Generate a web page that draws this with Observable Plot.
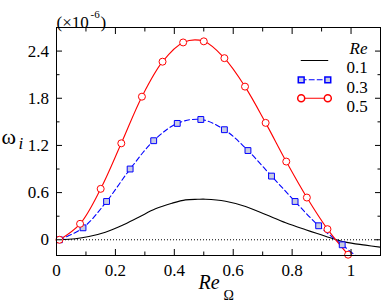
<!DOCTYPE html>
<html>
<head>
<meta charset="utf-8">
<script src="https://cdn.jsdelivr.net/npm/d3@7"></script>
<script src="https://cdn.jsdelivr.net/npm/@observablehq/plot@0.6"></script>
<style>
  html, body { margin: 0; padding: 0; background: #fff; }
</style>
</head>
<body>
<div id="chart"></div>
<script>
// Re = 0.1 (solid black curve)
const blackX = [0.01, 0.064, 0.11, 0.166, 0.222, 0.279, 0.336, 0.392, 0.438, 0.48, 0.506, 0.574, 0.642, 0.71, 0.778, 0.846, 0.913, 0.981, 1.049, 1.1];
const blackY = [0, 0.013, 0.042, 0.097, 0.182, 0.287, 0.394, 0.465, 0.508, 0.515, 0.516, 0.49, 0.423, 0.321, 0.216, 0.127, 0.045, -0.03, -0.068, -0.094];

// Re = 0.3 (blue dashed with squares)
const blueX = [0.01, 0.09, 0.17, 0.25, 0.33, 0.41, 0.49, 0.57, 0.65, 0.73, 0.81, 0.89, 0.97];
const blueY = [0, 0.152, 0.487, 0.9, 1.26, 1.48, 1.53, 1.40, 1.135, 0.81, 0.487, 0.178, -0.064];
const blueTailX = [1.05];
const blueTailY = [-0.31];

// Re = 0.5 (red solid with circles)
const redX = [0.01, 0.08, 0.15, 0.22, 0.29, 0.36, 0.43, 0.50, 0.57, 0.64, 0.71, 0.78, 0.85, 0.92, 0.99];
const redY = [0, 0.203, 0.648, 1.227, 1.82, 2.265, 2.51, 2.524, 2.31, 1.948, 1.487, 0.995, 0.537, 0.135, -0.19];

const xMajor = [0, 0.2, 0.4, 0.6, 0.8, 1];
const xMinor = [0.1, 0.3, 0.5, 0.7, 0.9];
const yMajor = [0, 0.6, 1.2, 1.8, 2.4];
const yMinor = [0.3, 0.9, 1.5, 2.1];
const legendLabels = ["0.1", "0.3", "0.5"];

const black = blackX.map((x, i) => ({x, y: blackY[i]}));
const blue = blueX.map((x, i) => ({x, y: blueY[i]}));
const blueLine = blue.concat(blueTailX.map((x, i) => ({x, y: blueTailY[i]})));
const red = redX.map((x, i) => ({x, y: redY[i]}));

const FONT = "Liberation Serif, Times New Roman, serif";
const fmt = d => d === 0 ? "0" : (Number.isInteger(d) ? String(d) : d.toFixed(1));
const blank = () => "";
const one = [0];
const segShape = {draw(ctx, l) { ctx.moveTo(0, 0); ctx.lineTo(0, -l); }};

const chart = Plot.plot({
  width: 381,
  height: 305,
  marginLeft: 56,
  marginRight: 1,
  marginTop: 27,
  marginBottom: 50,
  style: {fontFamily: FONT, fontSize: "17px", background: "#fff", color: "#000"},
  x: {domain: [0, 1.1]},
  y: {domain: [-0.2, 2.7]},
  marks: [
    Plot.ruleY([0], {stroke: "black", strokeDasharray: "1,2", strokeWidth: 1}),
    Plot.line(black, {x: "x", y: "y", stroke: "black", strokeWidth: 1.1, curve: "catmull-rom", clip: true}),
    Plot.line(blueLine, {x: "x", y: "y", stroke: "#0000ff", strokeWidth: 1.1, strokeDasharray: "5,3", curve: "catmull-rom", clip: true}),
    Plot.line(red, {x: "x", y: "y", stroke: "#ff0000", strokeWidth: 1.1, curve: "catmull-rom", clip: true}),
    Plot.dot(blue, {x: "x", y: "y", symbol: "square", r: 3.3, fill: "#c8cce2", stroke: "#0000ff", strokeWidth: 1}),
    Plot.dot(red, {x: "x", y: "y", symbol: "circle", r: 3.5, fill: "white", stroke: "#ff0000", strokeWidth: 1}),
    Plot.frame({stroke: "black", strokeWidth: 1}),
    // axes with inward ticks
    Plot.axisX({ticks: xMajor, tickSize: 6, dy: -6, tickPadding: 8, tickFormat: fmt, label: null, fontSize: 17}),
    Plot.axisX({ticks: xMinor, tickSize: 3.5, dy: -3.5, tickFormat: blank, label: null}),
    Plot.axisX({anchor: "top", ticks: xMajor, tickSize: 6, dy: 6, tickFormat: blank, label: null}),
    Plot.axisX({anchor: "top", ticks: xMinor, tickSize: 3.5, dy: 3.5, tickFormat: blank, label: null}),
    Plot.axisY({ticks: yMajor, tickSize: 6, dx: 6, tickPadding: 7.5, tickFormat: fmt, label: null, fontSize: 17}),
    Plot.axisY({ticks: yMinor, tickSize: 3.5, dx: 3.5, tickFormat: blank, label: null}),
    Plot.axisY({anchor: "right", ticks: yMajor, tickSize: 6, dx: -6, tickFormat: blank, label: null}),
    Plot.axisY({anchor: "right", ticks: yMinor, tickSize: 3.5, dx: -3.5, tickFormat: blank, label: null}),
    // axis labels
    Plot.text(one, {text: () => "ω", frameAnchor: "left", textAnchor: "start", dx: -55, dy: -4.5, fontSize: 22}),
    Plot.text(one, {text: () => "i", frameAnchor: "left", textAnchor: "start", dx: -38, dy: 1.6, fontSize: 17, fontStyle: "italic"}),
    Plot.text(one, {text: () => "Re", frameAnchor: "bottom", textAnchor: "start", dx: -20, dy: 33.6, fontSize: 20, fontStyle: "italic"}),
    Plot.text(one, {text: () => "Ω", frameAnchor: "bottom", textAnchor: "start", dx: 5, dy: 44.5, fontSize: 14}),
    Plot.text(one, {text: () => "(×10", frameAnchor: "top-left", textAnchor: "start", dx: 0, dy: -11.4, fontSize: 17}),
    Plot.text(one, {text: () => "-6", frameAnchor: "top-left", textAnchor: "start", dx: 34, dy: -17.5, fontSize: 11}),
    Plot.text(one, {text: () => ")", frameAnchor: "top-left", textAnchor: "start", dx: 44, dy: -11.4, fontSize: 17}),
    // legend
    Plot.text(one, {text: () => "Re", frameAnchor: "top-right", textAnchor: "start", dx: -31, dy: 14.6, fontSize: 17, fontStyle: "italic"}),
    Plot.text([legendLabels[0]], {text: d => d, frameAnchor: "top-right", textAnchor: "start", dx: -34, dy: 33.5, fontSize: 17}),
    Plot.text([legendLabels[1]], {text: d => d, frameAnchor: "top-right", textAnchor: "start", dx: -34, dy: 53.5, fontSize: 17}),
    Plot.text([legendLabels[2]], {text: d => d, frameAnchor: "top-right", textAnchor: "start", dx: -34, dy: 72.5, fontSize: 17}),
    Plot.vector(one, {frameAnchor: "top-right", dx: -79.3, dy: 33, length: 26.6, rotate: 90, anchor: "start", shape: segShape, stroke: "black", strokeWidth: 1.1}),
    Plot.vector(one, {frameAnchor: "top-right", dx: -79.3, dy: 52.3, length: 26.6, rotate: 90, anchor: "start", shape: segShape, stroke: "#0000ff", strokeWidth: 1.1, strokeDasharray: "5,3"}),
    Plot.vector(one, {frameAnchor: "top-right", dx: -79.3, dy: 70.7, length: 26.6, rotate: 90, anchor: "start", shape: segShape, stroke: "#ff0000", strokeWidth: 1.1}),
    Plot.dot(one, {frameAnchor: "top-right", dx: -79.3, dy: 52.3, symbol: "square", r: 3.3, fill: "#c8cce2", stroke: "#0000ff"}),
    Plot.dot(one, {frameAnchor: "top-right", dx: -52.7, dy: 52.3, symbol: "square", r: 3.3, fill: "#c8cce2", stroke: "#0000ff"}),
    Plot.dot(one, {frameAnchor: "top-right", dx: -79.3, dy: 70.7, symbol: "circle", r: 3.5, fill: "white", stroke: "#ff0000"}),
    Plot.dot(one, {frameAnchor: "top-right", dx: -52.7, dy: 70.7, symbol: "circle", r: 3.5, fill: "white", stroke: "#ff0000"})
  ]
});
document.getElementById("chart").appendChild(chart);
</script>
</body>
</html>
